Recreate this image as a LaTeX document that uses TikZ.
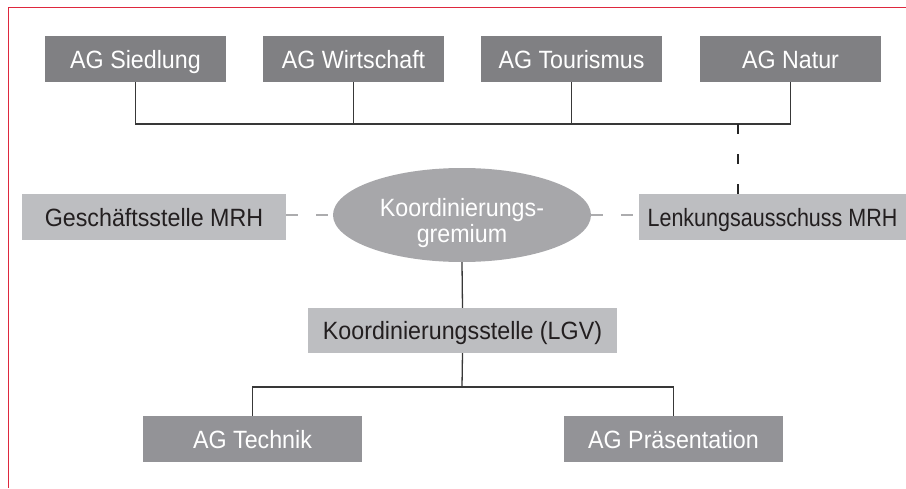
\documentclass[tikz,border=0pt]{standalone}
\usepackage{fontspec}
\setmainfont[FakeStretch=0.93]{Liberation Sans}
\newfontfamily\narrowfont[FakeStretch=0.86]{Liberation Sans}
\usetikzlibrary{shapes.geometric}

\definecolor{agdark}{RGB}{128,128,131}
\definecolor{agmid}{RGB}{147,147,151}
\definecolor{boxlight}{RGB}{189,190,193}
\definecolor{gremiumgray}{RGB}{167,167,170}
\definecolor{dashgray}{RGB}{172,172,174}
\definecolor{framered}{RGB}{222,40,62}
\definecolor{textdark}{RGB}{35,31,32}

\begin{document}
\begin{tikzpicture}[x=1pt, y=-1pt,
    agbox/.style={rectangle, fill=agdark, text=white, inner sep=0pt,
        minimum width=181pt, minimum height=46pt, text height=18pt, text depth=0pt,
        font=\fontsize{25}{28}\selectfont},
    lightbox/.style={rectangle, fill=boxlight, text=textdark, inner sep=0pt,
        minimum height=46pt, text height=18pt, text depth=0pt,
        font=\fontsize{25}{28}\selectfont},
    link/.style={black!78, line width=1.3pt},
    dashlink/.style={black!85, line width=1.2pt, dash pattern=on 10pt off 20pt},
    graylink/.style={dashgray, line width=1.3pt, dash pattern=on 12pt off 18pt}]
    \useasboundingbox (0,0) rectangle (906,488);
    \draw[framered, line width=1pt] (8,488) -- (8,7) -- (906,7);

    % Arbeitsgruppen oben
    \node[agbox] (sied) at (135.5,59) {AG Siedlung};
    \node[agbox] (wirt) at (353.5,59) {AG Wirtschaft};
    \node[agbox] (tour) at (571.5,59) {AG Tourismus};
    \node[agbox] (natur) at (790.5,59) {AG Natur};

    % mittlere Ebene
    \node[lightbox, minimum width=264pt] (gesch) at (154,217) {Geschäftsstelle MRH};
    \node[ellipse, fill=gremiumgray, inner sep=0pt, minimum width=258pt, minimum height=94pt] (gremium) at (462,215) {};
    \node[text=white, align=center, font=\fontsize{25}{26}\selectfont] (gremiumtext) at (462,223) {Koordinierungs-\\gremium};
    \node[lightbox, minimum width=267pt, font=\fontsize{25}{28}\narrowfont] (lenk) at (772.5,217) {Lenkungsausschuss MRH};

    \node[lightbox, minimum width=309pt, minimum height=45pt] (stelle) at (462.5,330.5) {Koordinierungsstelle (LGV)};

    % Arbeitsgruppen unten
    \node[agbox, fill=agmid, minimum width=219pt] (tech) at (252.5,439) {AG Technik};
    \node[agbox, fill=agmid, minimum width=219pt] (praes) at (673.5,439) {AG Präsentation};

    % Verbindungen
    \coordinate (topbus) at (462,124);
    \coordinate (natlink) at (738,124);
    \coordinate (lowbus) at (462,387);
    \draw[link] (sied.south) |- (topbus) -| (natur.south);
    \draw[link] (wirt.south) -- (wirt.south |- topbus);
    \draw[link] (tour.south) -- (tour.south |- topbus);
    \draw[dashlink] (natlink) -- (natlink |- lenk.north);

    \draw[graylink] (gesch.east |- gremium.west) -- (gremium.west);
    \draw[graylink] (gremium.east) -- (lenk.west |- gremium.east);

    \draw[link] (gremium.south) -- (stelle.north);
    \draw[link] (stelle.south) -- (lowbus);
    \draw[link] (tech.north) |- (lowbus) -| (praes.north);
\end{tikzpicture}
\end{document}
